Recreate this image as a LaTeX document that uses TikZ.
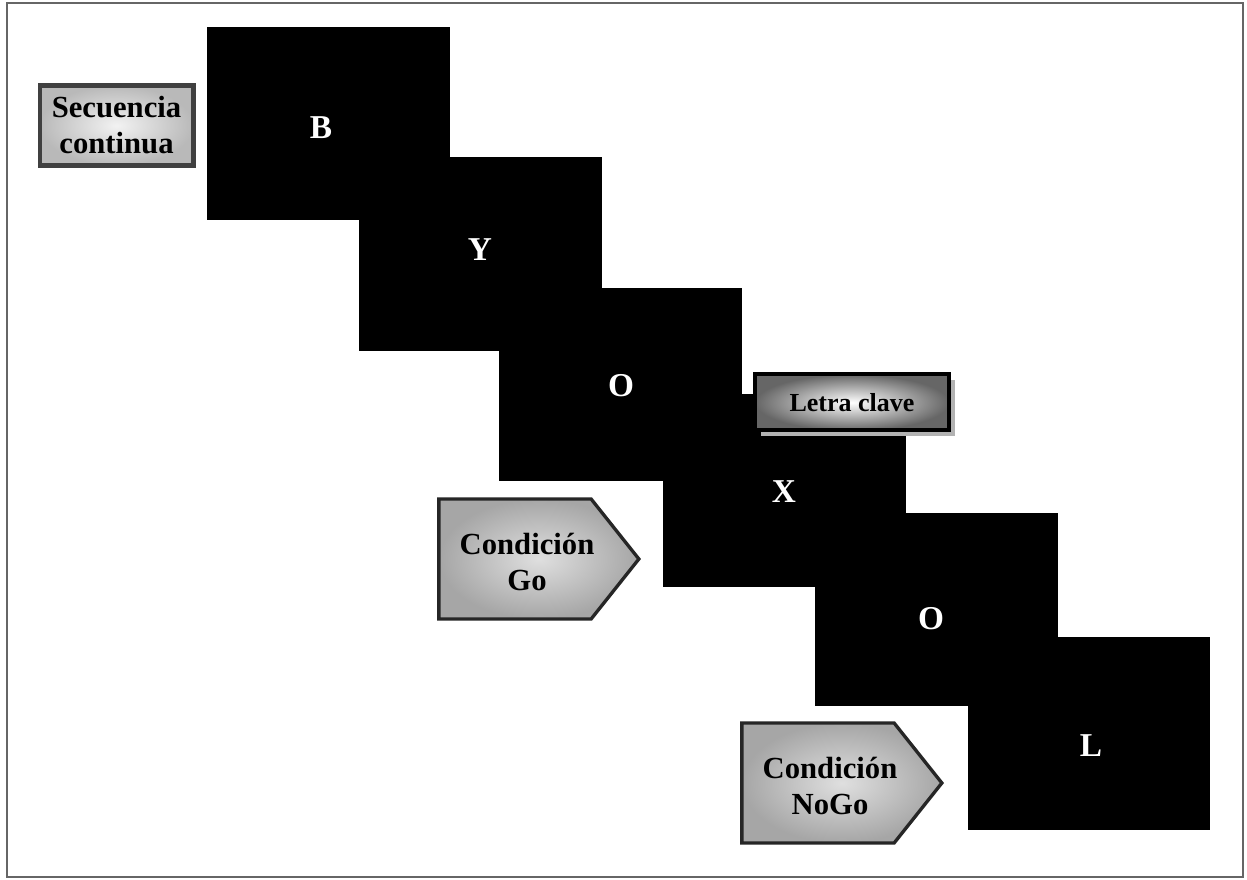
\documentclass[tikz,border=0pt]{standalone}
\usepackage{fontspec}
\setmainfont{Liberation Serif}
\usetikzlibrary{shapes.symbols,shadows}
\begin{document}
\begin{tikzpicture}[x=0.75pt,y=-0.75pt,
  blackbox/.style={draw=none,fill=black,minimum width=182pt,minimum height=145pt,inner sep=0pt},
  letter/.style={text=white,font=\fontsize{25}{28}\selectfont\bfseries,inner sep=0pt},
  seqbox/.style={draw=black!75,line width=3.5pt,inner color=gray!10,outer color=gray!55,
    minimum width=115pt,minimum height=60pt,align=center,inner sep=0pt,
    font=\fontsize{23}{27}\selectfont\bfseries},
  keybox/.style={draw=black,line width=3pt,inner color=white,outer color=black!60,
    minimum width=145pt,minimum height=42pt,inner sep=0pt,
    font=\fontsize{19.5}{22}\selectfont\bfseries,
    drop shadow={shadow xshift=4.5pt,shadow yshift=-4.5pt,fill=gray!60,opacity=1}},
  condbox/.style={signal,signal to=east,signal pointer angle=103,draw=black!85,line width=2.5pt,
    inner color=gray!25,outer color=gray!70,minimum width=150pt,minimum height=90pt,inner sep=0pt},
  condtext/.style={align=center,inner sep=0pt,font=\fontsize{23}{26.5}\selectfont\bfseries}]
\useasboundingbox (0,0) rectangle (1247,880);
\fill[white] (0,0) rectangle (1247,880);
\draw[black!60,line width=2pt] (7,3) rectangle (1243,877);

\node[blackbox] (bB) at (328.5,123.5) {};
\node[blackbox] (bY) at (480.5,254) {};
\node[blackbox] (bO) at (620.5,384.5) {};
\node[blackbox] (bX) at (784.5,490.5) {};
\node[blackbox] (bO2) at (936.5,609.5) {};
\node[blackbox] (bL) at (1089,733.5) {};

\node[letter] (lB) at (321,128) {B};
\node[letter] (lY) at (480,250) {Y};
\node[letter] (lO) at (621,386) {O};
\node[letter] (lX) at (784,492) {X};
\node[letter] (lO2) at (931,619) {O};
\node[letter] (lL) at (1091,746) {L};

\node[seqbox] (seq) at (116.5,125.5) {Secuencia\\continua};
\node[keybox] (key) at (852,402.5) {Letra clave};
\node[condbox] (go) at (515,559) {};
\node[condtext] (gotext) at (527,562) {Condición\\Go};
\node[condbox] (nogo) at (818,783) {};
\node[condtext] (nogotext) at (830,786) {Condición\\NoGo};
\end{tikzpicture}
\end{document}
